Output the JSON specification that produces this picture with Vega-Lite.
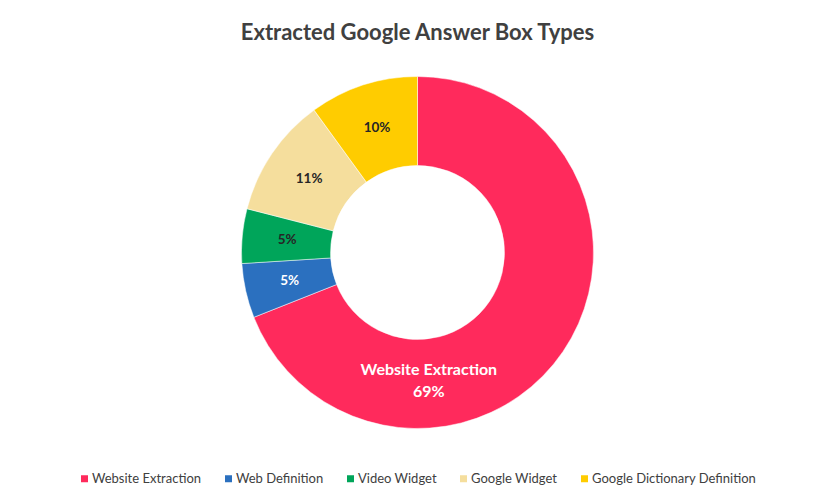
{
  "$schema": "https://vega.github.io/schema/vega-lite/v6.json",
  "width": 835,
  "height": 496,
  "autosize": {"type": "fit", "contains": "padding"},
  "padding": {"top": 22, "bottom": 10, "left": 0, "right": 0},
  "background": "white",
  "title": {
    "text": "Extracted Google Answer Box Types",
    "font": "Lato",
    "fontSize": 22,
    "fontWeight": "bold",
    "color": "#404040",
    "anchor": "middle",
    "offset": 10
  },
  "config": {
    "view": {"stroke": null},
    "legend": {"layout": {"bottom": {"anchor": "middle"}}}
  },
  "data": {
    "values": [
      {"type": "Website Extraction", "order": 1, "share": 69, "label": "69%"},
      {"type": "Web Definition", "order": 2, "share": 5, "label": "5%"},
      {"type": "Video Widget", "order": 3, "share": 5, "label": "5%"},
      {"type": "Google Widget", "order": 4, "share": 11, "label": "11%"},
      {"type": "Google Dictionary Definition", "order": 5, "share": 10, "label": "10%"}
    ]
  },
  "encoding": {
    "theta": {"field": "share", "type": "quantitative", "stack": true},
    "order": {"field": "order", "type": "quantitative"}
  },
  "layer": [
    {
      "mark": {"type": "arc", "outerRadius": 176, "innerRadius": 87, "stroke": "#ffffff", "strokeWidth": 0.5},
      "encoding": {
        "color": {
          "field": "type",
          "type": "nominal",
          "sort": ["Website Extraction", "Web Definition", "Video Widget", "Google Widget", "Google Dictionary Definition"],
          "scale": {
            "domain": ["Website Extraction", "Web Definition", "Video Widget", "Google Widget", "Google Dictionary Definition"],
            "range": ["#ff2a5c", "#2b70bf", "#00a55a", "#f5de9d", "#ffcc00"]
          },
          "legend": {
            "title": null,
            "orient": "bottom",
            "direction": "horizontal",
            "symbolType": "square",
            "symbolSize": 49,
            "symbolStrokeWidth": 0,
            "labelFont": "Lato",
            "labelFontSize": 13,
            "labelColor": "#404040",
            "labelLimit": 0,
            "columnPadding": 20,
            "labelOffset": 1,
            "offset": 22
          }
        }
      }
    },
    {
      "mark": {"type": "text", "radius": 131, "font": "Lato", "fontSize": 13.5, "fontWeight": "bold", "align": "center", "baseline": "middle"},
      "encoding": {
        "text": {
          "condition": {"test": "datum.type == 'Website Extraction'", "value": ""},
          "field": "label"
        },
        "color": {
          "condition": {"test": "datum.type == 'Web Definition'", "value": "#ffffff"},
          "value": "#262626"
        }
      }
    },
    {
      "mark": {"type": "text", "radius": 131, "font": "Lato", "fontSize": 16, "fontWeight": "bold", "align": "center", "baseline": "middle", "color": "#ffffff", "lineHeight": 22, "dx": -97, "dy": 44},
      "encoding": {
        "text": {
          "condition": {"test": "datum.type == 'Website Extraction'", "value": ["Website Extraction", "69%"]},
          "value": ""
        }
      }
    }
  ]
}
